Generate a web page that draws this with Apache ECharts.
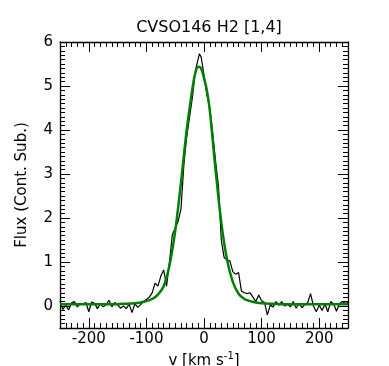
<!DOCTYPE html>
<html>
<head>
<meta charset="utf-8">
<script src="https://cdn.jsdelivr.net/npm/echarts@6/dist/echarts.min.js"></script>
<style>
  html, body { margin: 0; padding: 0; background: #fff; }
  #chart { width: 389px; height: 366px; }
</style>
</head>
<body>
<div id="chart"></div>
<script>
// observed spectrum (black)
const velocity = [
  -250, -245, -240, -235, -230, -225, -220, -215, -210, -205,
  -200, -195, -190, -185, -180, -175, -170, -165, -160, -155,
  -150, -145, -140, -135, -130, -125, -120, -115, -110, -105,
  -100, -95, -90, -85, -80, -75, -70, -65, -60, -55,
  -50, -45, -40, -35, -30, -25, -20, -15, -10, -8,
  -5, 0, 5, 10, 15, 20, 25, 30, 35, 40,
  45, 50, 55, 60, 65, 70, 75, 80, 85, 90,
  95, 100, 105, 110, 115, 120, 125, 130, 135, 140,
  145, 150, 155, 160, 165, 170, 175, 180, 185, 190,
  195, 200, 205, 210, 215, 220, 225, 230, 235, 240,
  245, 250
];
const flux = [
  0.12, -0.08, 0.02, -0.09, 0.07, 0.10, -0.02, 0.06, 0.04, 0.08,
  -0.13, 0.09, 0.06, -0.06, 0.05, -0.02, 0.03, 0.13, -0.02, 0.08,
  0.03, -0.05, 0.00, -0.06, 0.04, -0.15, 0.05, -0.03, 0.03, 0.10,
  0.15, 0.20, 0.30, 0.52, 0.45, 0.68, 0.82, 0.45, 1.00, 1.62,
  1.77, 1.92, 2.20, 3.20, 3.85, 4.30, 4.75, 5.35, 5.62, 5.73,
  5.66, 5.25, 4.80, 4.50, 3.95, 3.30, 2.75, 1.50, 1.10, 1.05,
  1.02, 0.78, 0.72, 0.76, 0.34, 0.30, 0.28, 0.30, 0.20, 0.10,
  0.25, 0.12, 0.08, -0.20, 0.02, -0.02, 0.10, 0.02, 0.10, 0.00,
  0.04, -0.02, 0.10, -0.05, 0.06, -0.04, 0.03, 0.08, 0.28, 0.00,
  -0.13, 0.02, -0.10, 0.04, -0.13, 0.10, 0.05, -0.12, 0.05, 0.10,
  0.06, 0.08
];

// fitted profile (green)
const fitVelocity = [
  -250, -200, -160, -140, -120, -110, -100, -90, -80, -70,
  -60, -50, -40, -30, -20, -15, -10, -5, 0, 5,
  10, 20, 30, 40, 50, 60, 70, 80, 90, 100,
  120, 150, 200, 250
];
const fitFlux = [
  0.04, 0.04, 0.04, 0.05, 0.06, 0.08, 0.11, 0.16, 0.26, 0.45,
  0.92, 1.70, 2.80, 4.00, 4.95, 5.30, 5.44, 5.40, 5.18, 4.90,
  4.45, 3.10, 1.90, 1.05, 0.55, 0.28, 0.16, 0.11, 0.08, 0.06,
  0.05, 0.04, 0.04, 0.04
];

const xMajorTicks = [-200, -100, 0, 100, 200];
const yMajorTicks = [0, 1, 2, 3, 4, 5, 6];

const chart = echarts.init(document.getElementById('chart'));

const font = 'DejaVu Sans';
const lineCol = '#000';

function xAxisDef(position, major) {
  return {
    type: 'value',
    position: position,
    min: -250,
    max: 250,
    interval: major ? 50 : 10,
    axisLine: { show: major, onZero: false, lineStyle: { color: lineCol, width: 1.3 } },
    axisTick: major
      ? { show: true, inside: true, length: 10, customValues: xMajorTicks, lineStyle: { color: lineCol, width: 1 } }
      : { show: true, inside: true, length: 5, lineStyle: { color: lineCol, width: 1 } },
    axisLabel: (major && position === 'bottom')
      ? { show: true, customValues: xMajorTicks, margin: 4, color: '#000', fontFamily: font, fontSize: 15 }
      : { show: false },
    splitLine: { show: false },
    name: (major && position === 'bottom') ? '{n|v [km s}{sup|-1}{n|]}' : '',
    nameLocation: 'middle',
    nameGap: 22,
    nameTextStyle: {
      color: '#000',
      fontFamily: font,
      fontSize: 15,
      rich: {
        n: { fontFamily: font, fontSize: 15, color: '#000', lineHeight: 18 },
        sup: { fontFamily: font, fontSize: 10, color: '#000', verticalAlign: 'top', lineHeight: 10 }
      }
    }
  };
}

function yAxisDef(position, major) {
  return {
    type: 'value',
    position: position,
    min: -0.5,
    max: 6,
    interval: major ? 0.5 : 0.1,
    axisLine: { show: major, onZero: false, lineStyle: { color: lineCol, width: 1.3 } },
    axisTick: major
      ? { show: true, inside: true, length: 10, customValues: yMajorTicks, lineStyle: { color: lineCol, width: 1 } }
      : { show: true, inside: true, length: 5, lineStyle: { color: lineCol, width: 1 } },
    axisLabel: (major && position === 'left')
      ? { show: true, customValues: yMajorTicks, margin: 7, color: '#000', fontFamily: font, fontSize: 15 }
      : { show: false },
    splitLine: { show: false },
    name: (major && position === 'left') ? 'Flux (Cont. Sub.)' : '',
    nameLocation: 'middle',
    nameGap: 30,
    nameTextStyle: { color: '#000', fontFamily: font, fontSize: 15 }
  };
}

const option = {
  backgroundColor: '#fff',
  animation: false,
  title: {
    text: 'CVSO146 H2 [1,4]',
    left: 204,
    textAlign: 'center',
    top: 15,
    textStyle: { color: '#000', fontFamily: font, fontSize: 16, fontWeight: 'normal' }
  },
  grid: { left: 60, right: 41, top: 42, bottom: 38, outerBoundsMode: 'none' },
  xAxis: [
    xAxisDef('bottom', true),
    xAxisDef('bottom', false),
    xAxisDef('top', true),
    xAxisDef('top', false)
  ],
  yAxis: [
    yAxisDef('left', true),
    yAxisDef('left', false),
    yAxisDef('right', true),
    yAxisDef('right', false)
  ],
  series: [
    {
      type: 'line',
      xAxisIndex: 0,
      yAxisIndex: 0,
      data: velocity.map((v, i) => [v, flux[i]]),
      showSymbol: false,
      lineStyle: { color: '#000', width: 1.2 },
      z: 2
    },
    {
      type: 'line',
      xAxisIndex: 0,
      yAxisIndex: 0,
      data: fitVelocity.map((v, i) => [v, fitFlux[i]]),
      showSymbol: false,
      smooth: 0.3,
      lineStyle: { color: '#008000', width: 2.5 },
      z: 3
    }
  ]
};

chart.setOption(option);
</script>
</body>
</html>
